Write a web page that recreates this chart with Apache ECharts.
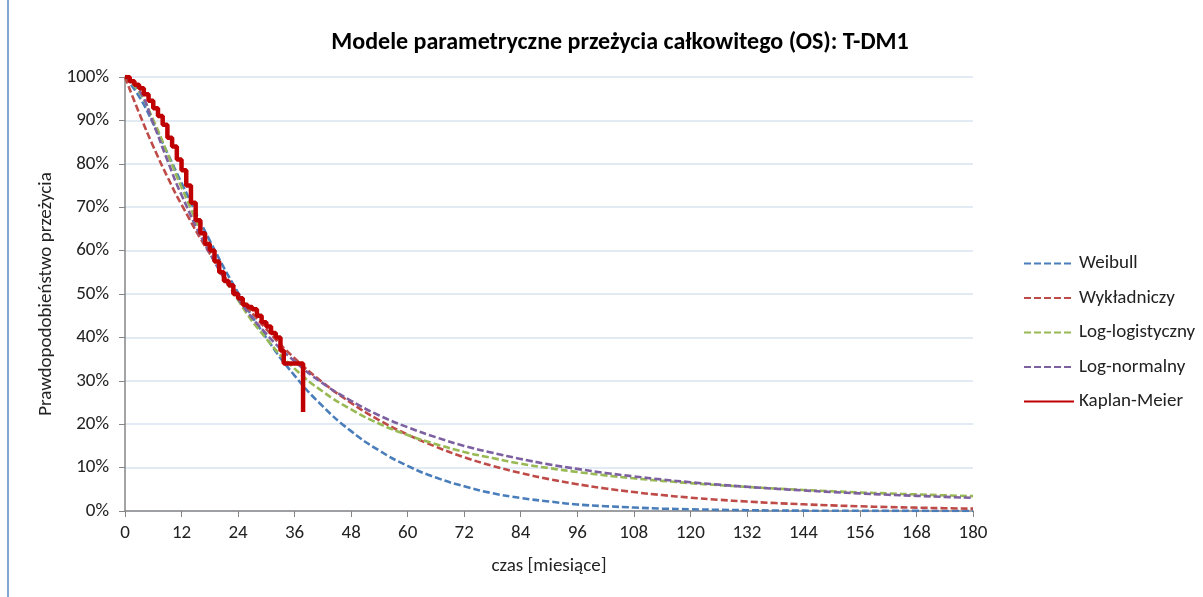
<!DOCTYPE html>
<html lang="pl">
<head>
<meta charset="UTF-8">
<title>Modele parametryczne OS</title>
<script src="https://cdn.jsdelivr.net/npm/echarts@6/dist/echarts.min.js"></script>
<style>
  html, body { margin: 0; padding: 0; background: #fff; }
  #main { width: 1203px; height: 597px; }
</style>
</head>
<body>
<div id="main"></div>
<script>
// miesiace dla krzywych parametrycznych
var months = [0, 3, 6, 9, 12, 18, 24, 30, 36, 42, 48, 54, 60, 66, 72, 78, 84, 90, 96,
              102, 108, 114, 120, 126, 132, 138, 144, 150, 156, 162, 168, 174, 180];

// przezycie w %
var weibull = [100, 95.5, 89.3, 82.5, 75.6, 62.3, 50.3, 39.9, 31.2, 24.1, 18.4, 13.9, 10.4, 7.7, 5.7,
               4.1, 3.0, 2.2, 1.5, 1.1, 0.8, 0.55, 0.4, 0.27, 0.18, 0.12, 0.08, 0.06, 0.04, 0.03, 0.02, 0.01, 0.01];
var wykladniczy = [100, 91.7, 84.0, 77.0, 70.6, 59.3, 49.8, 41.9, 35.2, 29.6, 24.9, 20.9, 17.6, 14.8, 12.4,
                   10.4, 8.75, 7.35, 6.18, 5.19, 4.36, 3.67, 3.08, 2.59, 2.18, 1.83, 1.54, 1.29, 1.09, 0.91, 0.77, 0.64, 0.54];
var logLogistyczny = [100, 96.6, 90.1, 82.4, 74.6, 60.2, 48.6, 39.7, 32.8, 27.5, 23.4, 20.1, 17.5, 15.4, 13.6,
                      12.2, 10.9, 9.89, 8.99, 8.21, 7.54, 6.94, 6.42, 5.96, 5.55, 5.18, 4.85, 4.55, 4.28, 4.04, 3.82, 3.61, 3.42];
var logNormalny = [100, 97.0, 89.3, 80.8, 72.8, 59.4, 48.9, 40.8, 34.5, 29.4, 25.4, 22.0, 19.3, 17.0, 15.0,
                   13.4, 12.0, 10.75, 9.7, 8.77, 7.97, 7.26, 6.63, 6.07, 5.57, 5.13, 4.74, 4.37, 4.05, 3.75, 3.49, 3.25, 3.03];

// Kaplan-Meier: czas zdarzenia i przezycie po zdarzeniu
var kmTime = [0, 1, 2, 3, 4, 5, 6, 7, 8, 9, 10, 11, 12, 13, 14, 15, 16, 17, 18, 19, 20,
              21, 22, 23, 24, 25, 26, 27, 28, 29, 30, 31, 32, 33, 33.7, 37.8];
var kmSurv = [100, 99, 98.2, 97.4, 96, 94.5, 92.8, 91, 89, 86, 84, 81, 78.5, 75, 71, 67, 64, 61.5, 60, 57.5, 55,
              53, 52, 50, 49, 47.5, 47, 46.5, 45, 43.5, 42.5, 41, 40, 37, 34, 22.8];

var xTicks = [0, 12, 24, 36, 48, 60, 72, 84, 96, 108, 120, 132, 144, 156, 168, 180];

function pairs(xs, ys) {
    var out = [];
    for (var i = 0; i < xs.length; i++) out.push([xs[i], ys[i]]);
    return out;
}

var font = 'Carlito, "Liberation Sans Narrow", "Liberation Sans", sans-serif';
var myChart = echarts.init(document.getElementById('main'));

function dashed(name, color, ys) {
    return {
        name: name,
        type: 'line',
        data: pairs(months, ys),
        smooth: true,
        symbol: 'none',
        lineStyle: { color: color, width: 2.6, type: [7, 3] },
        itemStyle: { color: color },
        z: 2
    };
}

var option = {
    animation: false,
    backgroundColor: '#fff',
    title: {
        text: 'Modele parametryczne przeżycia całkowitego (OS): T-DM1',
        left: 615,
        textAlign: 'center',
        top: 26,
        textStyle: { fontFamily: font, fontSize: 24, fontWeight: 'bold', color: '#000' }
    },
    graphic: [
        { type: 'line', shape: { x1: 8, y1: 0, x2: 8, y2: 597 }, style: { stroke: '#5B87C5', lineWidth: 1.5 } }
    ],
    legend: {
        orient: 'vertical',
        left: 1018,
        top: 249,
        itemWidth: 50,
        itemHeight: 20,
        itemGap: 15.5,
        itemStyle: { opacity: 0 },
        textStyle: { fontFamily: font, fontSize: 19, color: '#222' },
        data: ['Weibull', 'Wykładniczy', 'Log-logistyczny', 'Log-normalny', 'Kaplan-Meier']
    },
    grid: { left: 125, right: 230, top: 77, bottom: 86 },
    xAxis: {
        type: 'value',
        min: 0,
        max: 180,
        interval: 12,
        name: 'czas [miesiące]',
        nameLocation: 'middle',
        nameGap: 46,
        nameTextStyle: { fontFamily: font, fontSize: 19, color: '#222' },
        axisLine: { lineStyle: { color: '#868686', width: 1.5 } },
        axisTick: { show: true, length: 6, lineStyle: { color: '#868686' } },
        axisLabel: { fontFamily: font, fontSize: 19, color: '#222', margin: 13,
                     customValues: xTicks },
        splitLine: { show: false }
    },
    yAxis: {
        type: 'value',
        min: 0,
        max: 100,
        interval: 10,
        name: 'Prawdopodobieństwo przeżycia',
        nameLocation: 'middle',
        nameGap: 68,
        nameTextStyle: { fontFamily: font, fontSize: 19, color: '#222' },
        axisLine: { show: true, lineStyle: { color: '#868686', width: 1.5 } },
        axisTick: { show: true, length: 6, lineStyle: { color: '#868686' } },
        axisLabel: { fontFamily: font, fontSize: 19, color: '#222', margin: 16, formatter: '{value}%' },
        splitLine: { lineStyle: { color: '#D9E3F0', width: 1.5 } }
    },
    series: [
        dashed('Weibull', '#4A7EBB', weibull),
        dashed('Wykładniczy', '#BE4B48', wykladniczy),
        dashed('Log-logistyczny', '#98B954', logLogistyczny),
        dashed('Log-normalny', '#7D60A0', logNormalny),
        {
            name: 'Kaplan-Meier',
            type: 'line',
            data: pairs(kmTime, kmSurv),
            step: 'end',
            symbol: 'none',
            lineStyle: { color: '#C00000', width: 4.5 },
            itemStyle: { color: '#C00000' },
            z: 3
        }
    ]
};

myChart.setOption(option);
</script>
</body>
</html>
